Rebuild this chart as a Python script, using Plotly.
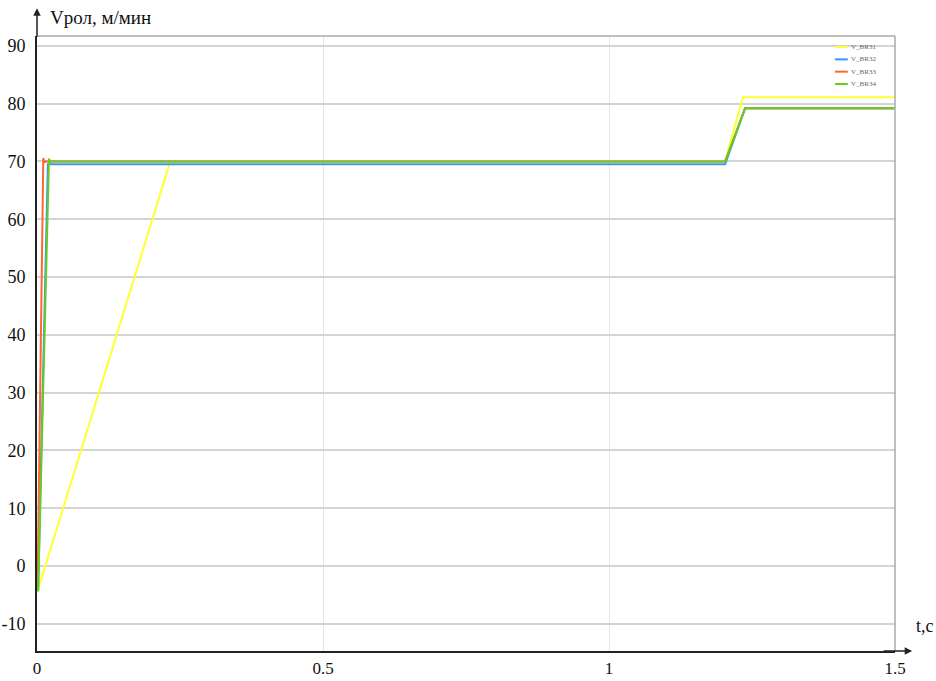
import plotly.graph_objects as go

# Series data (time in s, speed in m/min)
t_br31 = [0.002, 0.233, 1.203, 1.234, 1.5]
v_br31 = [-4.0, 70.0, 70.0, 81.1, 81.1]

t_br32 = [0.002, 0.019, 1.203, 1.238, 1.5]
v_br32 = [-4.2, 69.5, 69.5, 79.2, 79.2]

t_br33 = [0.001, 0.011, 0.013, 0.015, 1.203, 1.238, 1.5]
v_br33 = [-3.5, 70.6, 69.8, 70.0, 70.0, 79.2, 79.2]

t_br34 = [0.002, 0.021, 0.023, 0.025, 1.203, 1.238, 1.5]
v_br34 = [-4.4, 70.5, 69.9, 70.0, 70.0, 79.2, 79.2]

series_names = ["V_BR31", "V_BR32", "V_BR33", "V_BR34"]
series_colors = ["#ffff33", "#3399ff", "#ff6633", "#66cc22"]

y_ticks = [-10, 0, 10, 20, 30, 40, 50, 60, 70, 80, 90]
y_tick_text = ["-10", "0", "10", "20", "30", "40", "50", "60", "70", "80", "90"]
x_ticks = [0, 0.5, 1, 1.5]
x_tick_text = ["0", "0.5", "1", "1.5"]

fig = go.Figure()
for t, v, name, col in zip([t_br31, t_br32, t_br33, t_br34],
                           [v_br31, v_br32, v_br33, v_br34],
                           series_names, series_colors):
    fig.add_trace(go.Scatter(x=t, y=v, mode="lines", name=name,
                             line=dict(color=col, width=2)))

serif = "Liberation Serif"
fig.update_layout(
    width=936, height=681,
    margin=dict(l=37, r=41, t=36, b=30),
    paper_bgcolor="white", plot_bgcolor="white",
    showlegend=False,
    xaxis=dict(range=[0, 1.5], tickvals=x_ticks, ticktext=x_tick_text,
               showgrid=True, gridcolor="#e6e6e6", gridwidth=1,
               zeroline=False, showline=True, linecolor="#222", linewidth=2,
               ticks="", ticklabelstandoff=1, automargin=False,
               tickfont=dict(family=serif, size=17, color="#111")),
    yaxis=dict(range=[-14.7, 91.7], tickvals=y_ticks, ticktext=y_tick_text,
               showgrid=True, gridcolor="#d4d4d4", gridwidth=1.5,
               zeroline=False, showline=True, linecolor="#222", linewidth=2,
               ticks="", ticklabelstandoff=6, automargin=False,
               tickfont=dict(family=serif, size=18, color="#111")),
)

# manual compact legend (top right, inside plot)
leg_y = [0.982, 0.962, 0.942, 0.922]
for name, col, yy in zip(series_names, series_colors, leg_y):
    fig.add_shape(type="line", xref="paper", yref="paper", x0=0.930, x1=0.945,
                  y0=yy, y1=yy, line=dict(color=col, width=2))
    fig.add_annotation(xref="paper", yref="paper", x=0.946, y=yy, xanchor="left",
                       yanchor="middle", text=name, showarrow=False,
                       font=dict(family=serif, size=7, color="#666"))

# top and right borders
fig.add_shape(type="line", xref="paper", yref="paper", x0=0, x1=1, y0=1, y1=1,
              line=dict(color="#aaaaaa", width=1.5))
fig.add_shape(type="line", xref="paper", yref="paper", x0=1, x1=1, y0=0, y1=1,
              line=dict(color="#aaaaaa", width=1.5))

# axis arrows
fig.add_annotation(xref="paper", yref="paper", x=0, y=1.045, ax=0, ay=30,
                   axref="pixel", ayref="pixel", showarrow=True, arrowhead=2,
                   arrowsize=1, arrowwidth=1.5, arrowcolor="#222", text="")
fig.add_annotation(xref="paper", yref="paper", x=1.02, y=0, ax=-30, ay=0,
                   axref="pixel", ayref="pixel", showarrow=True, arrowhead=2,
                   arrowsize=1, arrowwidth=1.5, arrowcolor="#222", text="")

# axis titles
fig.add_annotation(xref="paper", yref="paper", x=0.013, y=1.03, xanchor="left", yanchor="middle",
                   text="Vрол, м/мин", showarrow=False,
                   font=dict(family=serif, size=19, color="#111"))
fig.add_annotation(xref="paper", yref="paper", x=1.022, y=0.04, xanchor="left", yanchor="middle",
                   text="t,c", showarrow=False,
                   font=dict(family=serif, size=18, color="#111"))

fig.write_html("out.html", config={"displayModeBar": False},
               post_script="document.body.style.margin='0';document.body.style.padding='0';")
